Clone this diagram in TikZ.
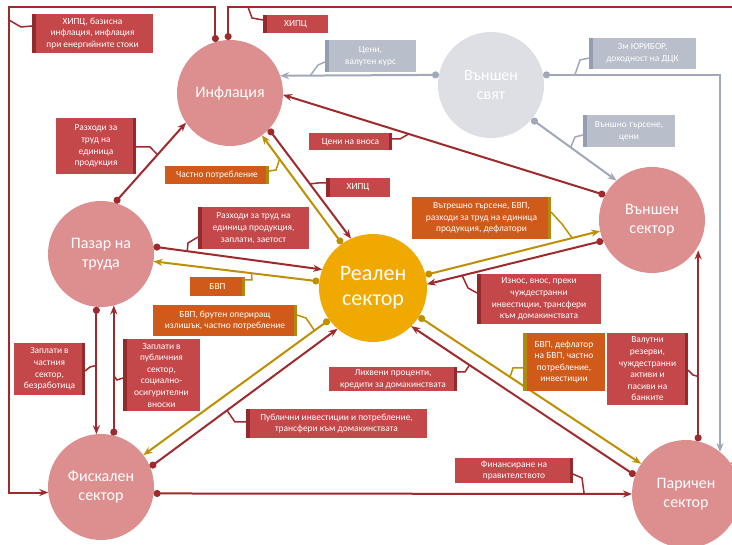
\documentclass[tikz,border=0pt]{standalone}
\usepackage{fontspec}
\setmainfont{Carlito}
\usetikzlibrary{arrows.meta,calc}
\definecolor{lnred}{HTML}{9E2A2D}
\definecolor{bxred}{HTML}{C4484A}
\definecolor{stred}{HTML}{932B2E}
\definecolor{bxorg}{HTML}{CF5A19}
\definecolor{lnolv}{HTML}{BE9000}
\definecolor{stolv}{HTML}{B08A10}
\definecolor{cpink}{HTML}{DD8E8E}
\definecolor{cyel}{HTML}{F0A900}
\definecolor{cgray}{HTML}{DEDFE4}
\definecolor{bxgray}{HTML}{B8BECA}
\definecolor{stgray}{HTML}{959DB0}
\definecolor{lngray}{HTML}{A0A8BA}
\tikzset{
  circ/.style={circle, minimum size=106pt, inner sep=0pt, outer sep=0pt, text=white, align=center, font=\fontsize{16}{18.5}\selectfont},
  bx/.style={rectangle, inner sep=0pt, outer sep=0pt, text=white, align=center, font=\fontsize{9.4}{11.6}\selectfont},
  stripeL/.style={path picture={\fill[#1] (path picture bounding box.north west) rectangle ([xshift=3.5pt]path picture bounding box.south west);}},
  stripeR/.style={path picture={\fill[#1] (path picture bounding box.north east) rectangle ([xshift=-3.5pt]path picture bounding box.south east);}},
  redL/.style={bx, fill=bxred, stripeL=stred},
  redR/.style={bx, fill=bxred, stripeR=stred},
  orgL/.style={bx, fill=bxorg, stripeL=stolv},
  orgR/.style={bx, fill=bxorg, stripeR=stolv},
  grayL/.style={bx, fill=bxgray, stripeL=stgray},
  conn/.style={line width=2pt, {Circle[length=7pt]}-{Stealth[length=9pt,width=7pt]}},
  rl/.style={conn, draw=lnred, color=lnred},
  ol/.style={conn, draw=lnolv, color=lnolv},
  gl/.style={conn, draw=lngray, color=lngray},
  cr/.style={draw=lnred, line width=1.5pt},
  co/.style={draw=lnolv, line width=1.5pt},
  cg/.style={draw=lngray, line width=1.5pt},
}
\begin{document}
\begin{tikzpicture}[x=1pt,y=-1pt]
\useasboundingbox (0,0) rectangle (732,545);
\clip (0,0) rectangle (732,545);
\fill[white] (0,0) rectangle (732,545);

% circles
\node[circ, fill=cpink] (infl) at (230,93) {Инфлация};
\node[circ, fill=cgray] (world) at (491,85) {Външен\\свят};
\node[circ, fill=cpink] (ext) at (652,220) {Външен\\сектор};
\node[circ, fill=cpink] (labor) at (101,254) {Пазар на\\труда};
\node[circ, fill=cyel, minimum size=108pt, font=\fontsize{22}{25}\selectfont] (real) at (373,288) {Реален\\сектор};
\node[circ, fill=cpink] (fisc) at (101,487) {Фискален\\сектор};
\node[circ, fill=cpink, minimum size=108pt] (mon) at (686,494) {Паричен\\сектор};

% corner coordinates
\coordinate (tl) at (9,7);
\coordinate (tr) at (745,7);
\coordinate (k1) at (9,20);
\coordinate (k2) at (248,7);

% connectors
\draw[rl] (infl.106) |- (tl) |- (fisc.186);
\draw[rl] (infl.92) |- (tr) |- (mon.35);
\draw[gl] (world.169) -- coordinate[pos=0.81] (k3) (infl.19);
\draw[gl] (world.11) -| coordinate[pos=0.09] (k4) (mon.51);
\draw[gl] (world.-40) -- coordinate[pos=0.46] (k5) (ext.132);
\draw[rl] (ext.152) -- coordinate[pos=0.61] (k6) (infl.-2);
\draw[rl] (infl.-43) -- coordinate[pos=0.5] (k7) (real.114);
\draw[ol] (real.125) -- coordinate[pos=0.78] (k8) (infl.-53);
\draw[rl] (labor.75) -- coordinate[pos=0.6] (k9) (infl.214);
\draw[rl] (labor.8) -- coordinate[pos=0.2] (k10) (real.160);
\draw[ol] (real.173) -- coordinate[pos=0.41] (k11) (labor.-8);
\draw[rl] (labor.-95) -- coordinate[pos=0.46] (k13) (fisc.95);
\draw[rl] (fisc.76) -- coordinate[pos=0.46] (k14) (labor.-76);
\draw[ol] (real.216) -- coordinate[pos=0.08] (k12) (fisc.37);
\draw[rl] (fisc.22) -- coordinate[pos=0.41] (k15) (real.229);
\draw[rl] (fisc.-7) -- coordinate[pos=0.9] (k16) (mon.west);
\draw[ol] (real.-32) -- coordinate[pos=0.41] (k17) (mon.146);
\draw[rl] (mon.160) -- coordinate[pos=0.74] (k18) (real.-45);
\draw[ol] (real.14) -- coordinate[pos=0.84] (k19) (ext.192);
\draw[rl] (ext.203) -- coordinate[pos=0.8] (k20) (real.4);
\draw[rl] (mon.77) -- coordinate[pos=0.34] (k21) (mon.77 |- ext.-35);

% label boxes
\node[redL, minimum width=121pt, minimum height=39pt] (B1) at (92.5,33.5) {ХИПЦ, базисна\\инфлация, инфлация\\при енергийните стоки};
\node[redL, minimum width=65pt, minimum height=18pt] (B2) at (295.5,24) {ХИПЦ};
\node[grayL, minimum width=91pt, minimum height=32pt] (B3) at (370.5,56) {Цени,\\валутен курс};
\node[grayL, minimum width=107pt, minimum height=31pt] (B4) at (642.5,53.5) {3м ЮРИБОР,\\доходност на ДЦК};
\node[grayL, minimum width=92pt, minimum height=32pt] (B5) at (629,131) {Външно търсене,\\цени};
\node[redR, minimum width=83pt, minimum height=17pt] (B6) at (350.5,142) {Цени на вноса};
\node[redL, minimum width=64pt, minimum height=19pt] (B7) at (358,187.5) {ХИПЦ};
\node[orgR, minimum width=104pt, minimum height=18pt] (B8) at (217,175) {Частно потребление};
\node[redR, minimum width=80pt, minimum height=56pt] (B9) at (96,146) {Разходи за\\труд на\\единица\\продукция};
\node[redL, minimum width=111pt, minimum height=42pt] (B10) at (253.5,228) {Разходи за труд на\\единица продукция,\\заплати, заетост};
\node[orgR, minimum width=55pt, minimum height=19pt] (B11) at (217.5,286.5) {БВП};
\node[orgR, minimum width=144pt, minimum height=31pt] (B12) at (225,320.5) {БВП, брутен опериращ\\излишък, частно потребление};
\node[redR, minimum width=71pt, minimum height=52pt] (B13) at (49.5,369) {Заплати в\\частния\\сектор,\\безработица};
\node[redL, minimum width=77pt, minimum height=72pt] (B14) at (161.5,375) {Заплати в\\публичния\\сектор,\\социално-\\осигурителни\\вноски};
\node[redL, minimum width=181pt, minimum height=29pt] (B15) at (336.5,423.5) {Публични инвестиции и потребление,\\трансфери към домакинствата};
\node[redR, minimum width=118pt, minimum height=25pt] (B16) at (514,470.5) {Финансиране на\\правителството};
\node[orgL, minimum width=82pt, minimum height=58pt] (B17) at (564,362) {БВП, дефлатор\\на БВП, частно\\потребление,\\инвестиции};
\node[redR, minimum width=128pt, minimum height=24pt] (B18) at (393,379) {Лихвени проценти,\\кредити за домакинствата};
\node[orgR, minimum width=139pt, minimum height=42pt] (B19) at (481.5,218) {Вътрешно търсене, БВП,\\разходи за труд на единица\\продукция, дефлатори};
\node[redL, minimum width=124pt, minimum height=50pt] (B20) at (539,299) {Износ, внос, преки\\чуждестранни\\инвестиции, трансфери\\към домакинствата};
\node[redR, minimum width=81pt, minimum height=72pt] (B21) at (647.5,369) {Валутни\\резерви,\\чуждестранни\\активи и\\пасиви на\\банките};

% callouts
\draw[cr] ([yshift=7.5pt]B1.west) -- ++(-11,1) -- (k1);
\draw[cr] ([yshift=4pt]B2.west) -- ++(-11,-2) -- (k2);
\draw[cg] ([yshift=-6pt]B3.west) -- ++(-7,3) -- (k3);
\draw[cg] ([yshift=-4.5pt]B4.west) -- ++(-9,2) -- (k4);
\draw[cg] ([yshift=-4pt]B5.west) -- ++(-8,2) -- (k5);
\draw[cr] ([yshift=3pt]B6.east) -- ++(8,0) -- (k6);
\draw[cr] ([yshift=4.5pt]B7.west) -- ++(-8,0) -- (k7);
\draw[co] ([yshift=4pt]B8.east) -- ++(7,-1) -- (k8);
\draw[cr] ([yshift=-1pt]B9.east) -- ++(14,0) -- (k9);
\draw[cr] ([yshift=-9pt]B10.west) -- ++(-10,6) -- (k10);
\draw[co] ([yshift=6.5pt]B11.east) -- ++(7,0) -- (k11);
\draw[co] ([yshift=5.5pt]B12.east) -- ++(9,3) -- (k12);
\draw[cr] ([yshift=-2pt]B13.east) -- ++(5,-4) -- (k13);
\draw[cr] ([yshift=-3pt]B14.west) -- ++(-6,2) -- (k14);
\draw[cr] ([yshift=1.5pt]B15.west) -- ++(-11,0) -- (k15);
\draw[cr] ([yshift=-3.5pt]B16.east) -- ++(9,4) -- (k16);
\draw[co] ([yshift=-6pt]B17.west) -- ++(-10,0) -- (k17);
\draw[cr] ([yshift=7pt]B18.east) -- ++(8,0) -- (k18);
\draw[co] ([yshift=6pt]B19.east) -- ++(11,12) -- (k19);
\draw[cr] ([yshift=6pt]B20.west) -- ++(-9,-5) -- (k20);
\draw[cr] ([yshift=-1pt]B21.east) -- ++(5,5) -- (k21);
\end{tikzpicture}
\end{document}
